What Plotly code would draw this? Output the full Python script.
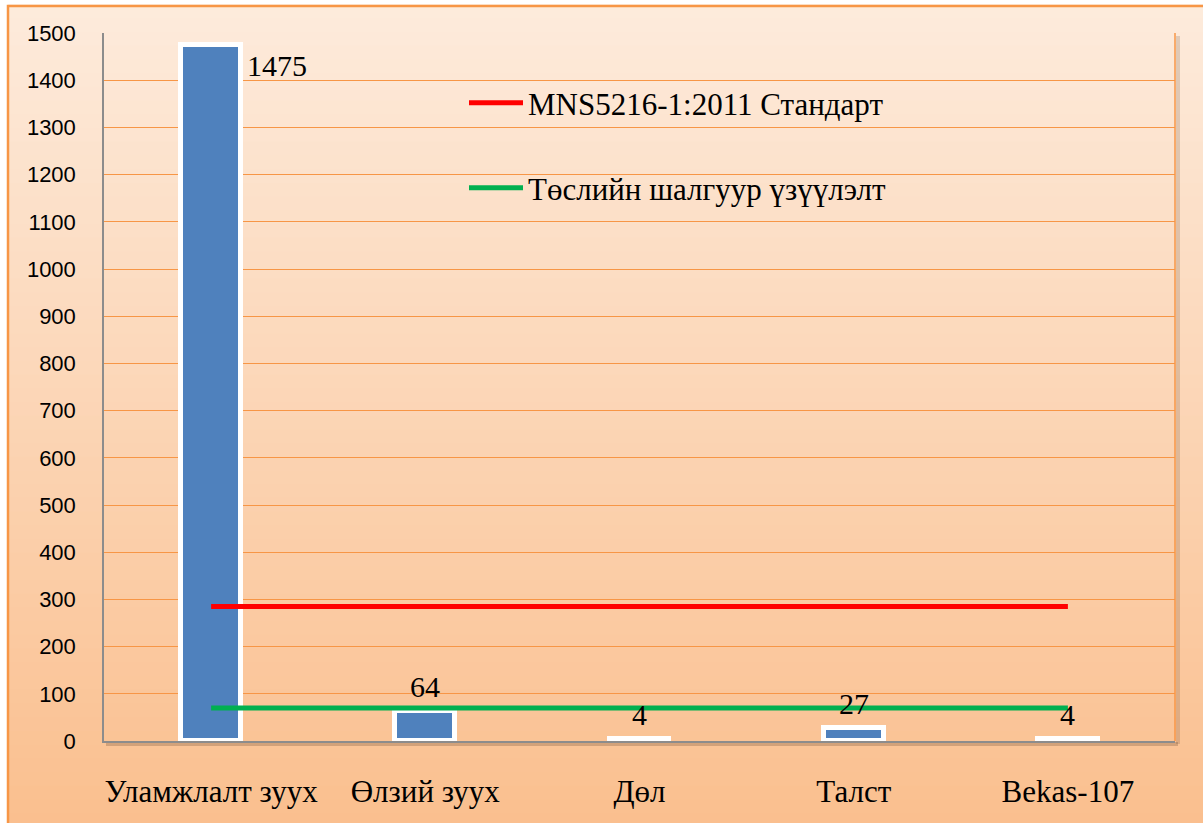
import plotly.graph_objects as go

categories = ["Уламжлалт зуух", "Өлзий зуух", "Дөл", "Талст", "Bekas-107"]
values = [1475, 64, 4, 27, 4]
standard_name = "MNS5216-1:2011 Стандарт"
standard_values = [285, 285, 285, 285, 285]
project_name = "Төслийн шалгуур үзүүлэлт"
project_values = [70, 70, 70, 70, 70]
y_ticks = [0, 100, 200, 300, 400, 500, 600, 700, 800, 900, 1000, 1100, 1200, 1300, 1400, 1500]

W, H = 1203, 823
L, R, T, B = 104, 28, 33, 82
pw, ph = W - L - R, H - T - B

def px_x(p):
    return (p - L) / pw

def px_y(p):
    return (H - B - p) / ph

SERIF = "Liberation Serif"
SANS = "Liberation Sans"

fig = go.Figure()
fig.add_trace(go.Bar(
    x=categories, y=values, width=0.28,
    marker=dict(color="#4F81BD", line=dict(color="white", width=5)),
    showlegend=False, hoverinfo="skip",
))
fig.add_trace(go.Scatter(
    x=categories, y=standard_values, mode="lines", name=standard_name,
    line=dict(color="#FF0000", width=5), legend="legend", hoverinfo="skip",
))
fig.add_trace(go.Scatter(
    x=categories, y=project_values, mode="lines", name=project_name,
    line=dict(color="#00B050", width=5), legend="legend2", hoverinfo="skip",
))

# background gradient strips
shapes = []
top = (253, 235, 220)
bot = (250, 191, 142)
n = 60
y0p, y1p = 6, H + 5
x0p, x1p = 8, W + 5
for i in range(n):
    a = y0p + (y1p - y0p) * i / n
    b = y0p + (y1p - y0p) * (i + 1) / n
    t = (i + 0.5) / n
    c = tuple(round(top[k] + (bot[k] - top[k]) * t) for k in range(3))
    shapes.append(dict(type="rect", xref="paper", yref="paper", layer="below",
                       x0=px_x(x0p), x1=px_x(x1p), y0=px_y(b), y1=px_y(a) + 0.002,
                       fillcolor="rgb(%d,%d,%d)" % c, line=dict(width=0)))
# outer border
shapes.append(dict(type="rect", xref="paper", yref="paper", layer="below",
                   x0=px_x(x0p), x1=px_x(x1p), y0=px_y(y1p), y1=px_y(y0p),
                   fillcolor="rgba(0,0,0,0)", line=dict(color="#F79646", width=2.5)))
# plot-area shadow (bottom and right)
shapes.append(dict(type="line", xref="paper", yref="paper", layer="below",
                   x0=px_x(L + 2), x1=px_x(W - R + 3), y0=px_y(H - B + 3), y1=px_y(H - B + 3),
                   line=dict(color="rgba(90,60,40,0.25)", width=4)))
shapes.append(dict(type="line", xref="paper", yref="paper", layer="below",
                   x0=px_x(W - R + 3), x1=px_x(W - R + 3), y0=px_y(T + 3), y1=px_y(H - B + 3),
                   line=dict(color="rgba(90,60,40,0.18)", width=4)))
# right plot border
shapes.append(dict(type="line", xref="paper", yref="paper", x0=1, x1=1, y0=0, y1=1,
                   line=dict(color="#F79646", width=1.5)))

annotations = []
for i, (c, v) in enumerate(zip(categories, values)):
    if v > 1000:
        annotations.append(dict(x=c, y=v, text=str(v), showarrow=False,
                                xanchor="left", yanchor="top", xshift=34, yshift=-2,
                                font=dict(family=SERIF, size=30, color="black")))
    else:
        annotations.append(dict(x=c, y=v, text=str(v), showarrow=False,
                                xanchor="center", yanchor="bottom", yshift=6,
                                font=dict(family=SERIF, size=30, color="black")))

fig.update_layout(
    width=W, height=H,
    margin=dict(l=L, r=R, t=T, b=B, autoexpand=False),
    paper_bgcolor="white",
    plot_bgcolor="rgba(0,0,0,0)",
    shapes=shapes,
    annotations=annotations,
    bargap=0,
    hovermode=False,
    legend=dict(x=px_x(464), y=px_y(76), xanchor="left", yanchor="top",
                bgcolor="rgba(0,0,0,0)", itemwidth=54,
                font=dict(family=SERIF, size=31, color="black")),
    legend2=dict(x=px_x(464), y=px_y(161), xanchor="left", yanchor="top",
                 bgcolor="rgba(0,0,0,0)", itemwidth=54,
                 font=dict(family=SERIF, size=31, color="black")),
    xaxis=dict(showgrid=False, showline=True, linecolor="#8C8C8C", linewidth=1.5,
               ticks="outside", ticklen=22, tickcolor="rgba(0,0,0,0)",
               tickfont=dict(family=SERIF, size=31, color="black")),
    yaxis=dict(range=[0, 1500], tickvals=y_ticks, showgrid=True, gridcolor="#F79646",
               gridwidth=1, showline=True, linecolor="#8C8C8C", linewidth=1.5,
               zeroline=False,
               ticks="outside", ticklen=22, tickcolor="rgba(0,0,0,0)",
               tickfont=dict(family=SANS, size=22, color="black")),
)

fig.write_html("out.html", config={"displayModeBar": False},
               post_script="document.body.style.margin='0';")
